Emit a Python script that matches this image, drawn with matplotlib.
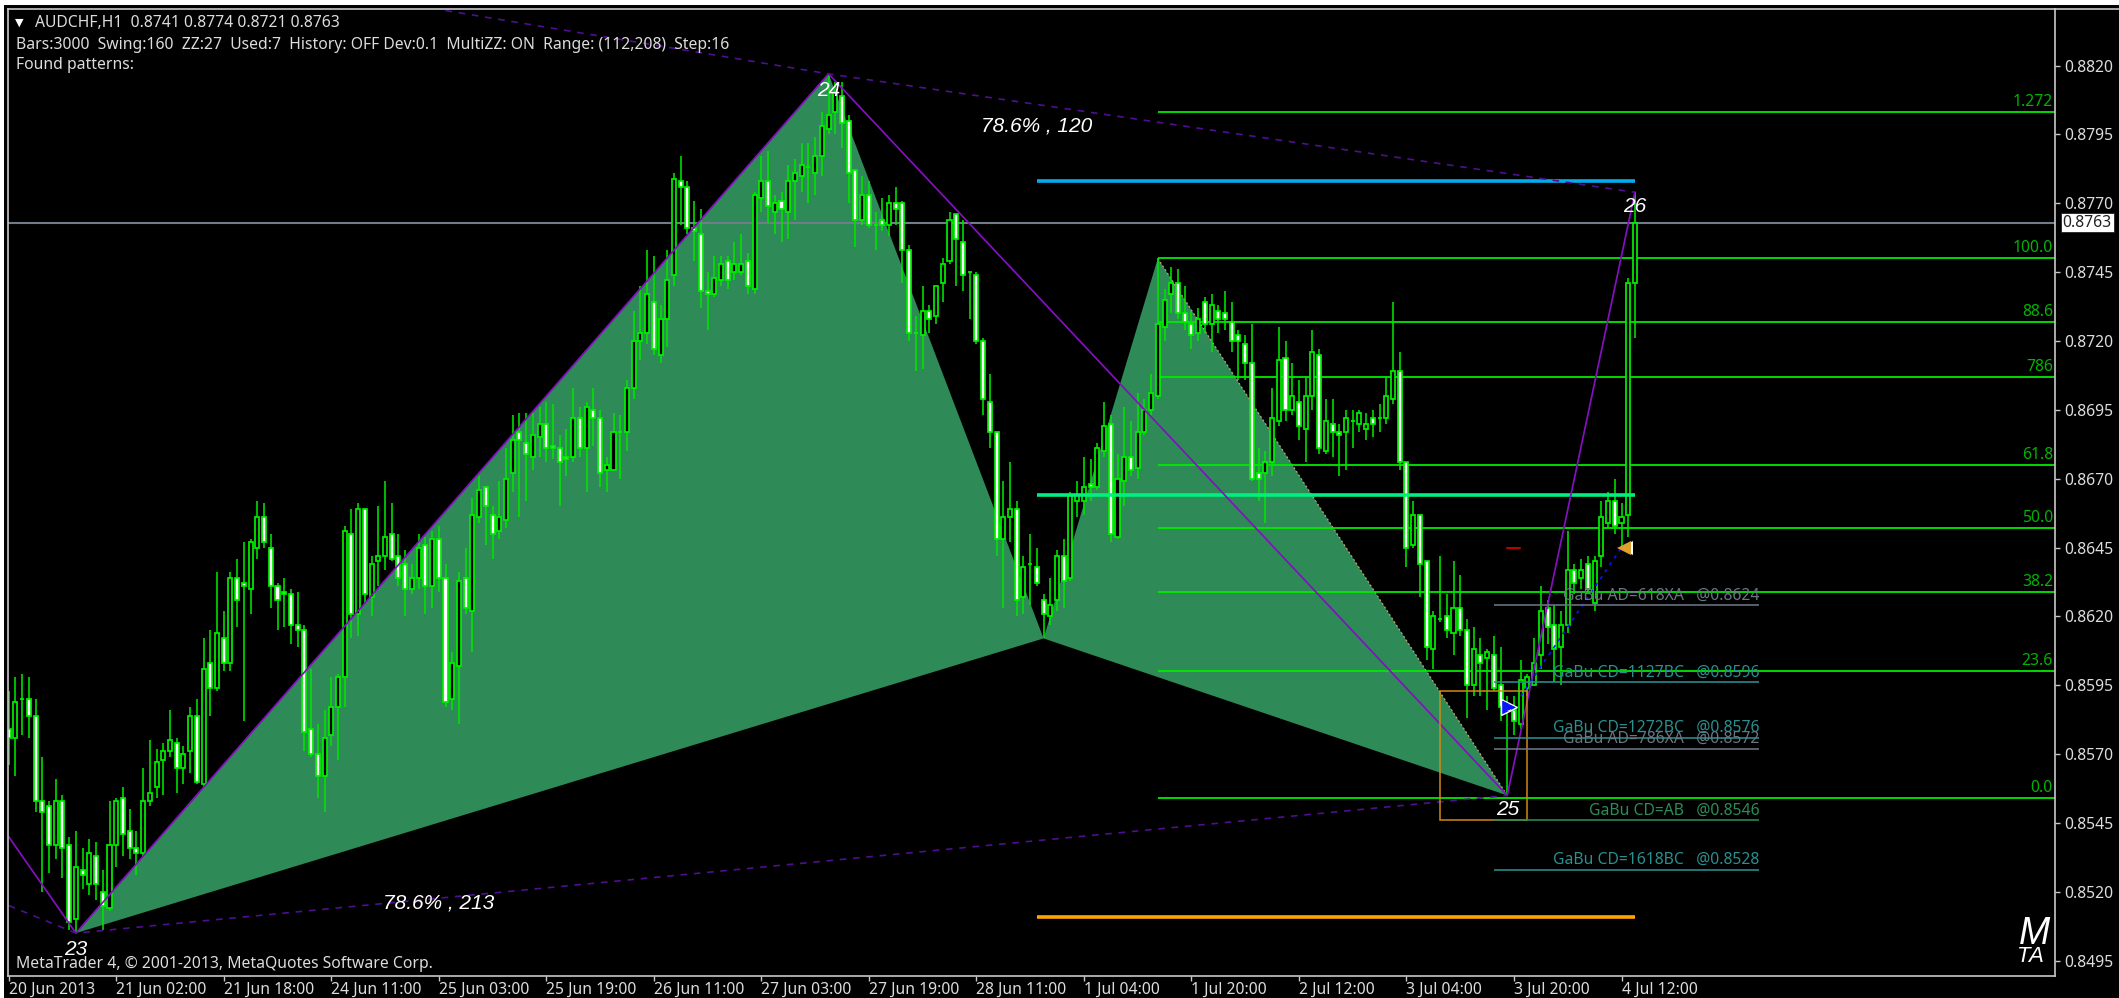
import numpy as np
import matplotlib
matplotlib.use("Agg")
import matplotlib.pyplot as plt
from matplotlib.patches import Rectangle
from matplotlib.lines import Line2D
from matplotlib.ticker import FixedLocator, FixedFormatter

# ---------- data: AUDCHF H1 prices in units of 0.0001 ----------
opens = [
8579,8576,8590,8590,8584,8553,8551,8537,8553,8537,
8510,8528,8523,8533,8520,8514,8537,8554,8542,8536,
8534,8553,8558,8568,8571,8574,8565,8571,8584,8559,
8603,8594,8612,8603,8634,8632,8630,8645,8656,8645,
8631,8629,8628,8617,8615,8579,8570,8562,8577,8587,
8598,8650,8621,8659,8627,8640,8642,8650,8642,8639,
8630,8634,8646,8631,8648,8634,8590,8602,8634,8622,
8656,8667,8657,8651,8655,8672,8687,8683,8678,8685,
8690,8682,8681,8678,8678,8692,8681,8695,8692,8673,
8673,8687,8687,8703,8720,8723,8734,8715,8728,8744,
8778,8776,8761,8759,8738,8737,8742,8749,8745,8745,
8749,8739,8772,8778,8767,8771,8767,8778,8780,8783,
8781,8787,8797,8803,8809,8800,8782,8764,8773,8762,
8764,8762,8770,8770,8753,8723,8722,8731,8729,8741,
8749,8766,8756,8745,8744,8720,8698,8687,8648,8656,
8659,8627,8639,8638,8626,8620,8626,8642,8634,8662,
8662,8668,8667,8680,8690,8649,8669,8678,8674,8687,
8695,8700,8725,8737,8741,8730,8726,8723,8734,8726,
8731,8730,8727,8722,8719,8712,8672,8672,8676,8691,
8714,8695,8698,8688,8700,8715,8680,8690,8687,8687,
8691,8690,8688,8692,8692,8692,8699,8709,8676,8646,
8657,8640,8608,8619,8620,8614,8623,8615,8595,8606,
8605,8606,8595,8588,8586,8581,8594,8595,8606,8623,
8617,8609,8617,8637,8634,8639,8625,8642,8654,8662,
8654,8657,8741]
closes = [
8576,8589,8590,8584,8553,8549,8537,8553,8536,8509,
8529,8526,8534,8523,8515,8537,8553,8541,8536,8534,
8553,8556,8567,8571,8575,8565,8570,8584,8560,8601,
8594,8614,8603,8634,8626,8631,8647,8656,8647,8631,
8626,8628,8617,8615,8578,8570,8562,8576,8587,8598,
8651,8621,8659,8628,8639,8642,8649,8641,8634,8630,
8634,8645,8631,8648,8634,8589,8603,8633,8623,8657,
8666,8660,8650,8656,8670,8684,8684,8679,8686,8690,
8681,8681,8676,8677,8692,8681,8696,8692,8672,8675,
8687,8687,8703,8720,8723,8737,8717,8728,8742,8779,
8776,8761,8760,8738,8737,8743,8748,8742,8748,8748,
8740,8773,8778,8769,8770,8768,8778,8781,8784,8783,
8787,8798,8802,8810,8799,8781,8764,8773,8762,8762,
8762,8770,8768,8753,8723,8723,8731,8728,8740,8748,
8764,8757,8744,8745,8720,8699,8687,8648,8656,8659,
8626,8638,8639,8632,8621,8624,8642,8633,8664,8664,
8667,8667,8681,8689,8650,8670,8678,8673,8687,8695,
8701,8726,8735,8741,8730,8727,8722,8728,8726,8733,
8728,8728,8720,8720,8712,8670,8670,8676,8692,8713,
8695,8700,8689,8700,8716,8681,8691,8687,8686,8692,
8691,8694,8690,8690,8692,8700,8709,8676,8645,8657,
8639,8609,8620,8619,8615,8623,8615,8595,8608,8603,
8607,8594,8587,8586,8582,8597,8598,8603,8622,8616,
8608,8617,8637,8632,8637,8630,8640,8656,8662,8653,
8656,8741,8763]
highs = [
8593,8598,8599,8598,8590,8569,8553,8561,8555,8540,
8542,8536,8539,8538,8528,8553,8554,8558,8550,8542,
8565,8575,8572,8574,8586,8576,8573,8587,8590,8612,
8615,8636,8622,8636,8641,8647,8648,8662,8661,8650,
8632,8634,8630,8629,8617,8601,8581,8586,8598,8599,
8653,8659,8661,8659,8642,8660,8669,8661,8650,8644,
8639,8650,8649,8651,8653,8639,8607,8636,8645,8663,
8671,8667,8660,8669,8681,8693,8694,8694,8694,8696,
8698,8697,8686,8688,8703,8696,8698,8703,8695,8678,
8694,8693,8706,8731,8740,8753,8751,8733,8753,8781,
8787,8778,8771,8768,8745,8751,8751,8751,8756,8759,
8752,8774,8787,8789,8773,8774,8784,8786,8792,8792,
8794,8803,8817,8814,8814,8802,8782,8780,8778,8767,
8772,8773,8776,8771,8755,8729,8740,8733,8740,8750,
8767,8766,8764,8745,8745,8721,8708,8687,8669,8676,
8662,8642,8650,8645,8628,8634,8644,8648,8665,8669,
8678,8677,8683,8698,8693,8679,8696,8691,8701,8699,
8708,8750,8739,8747,8746,8740,8731,8732,8736,8737,
8733,8738,8734,8724,8722,8726,8681,8680,8703,8725,
8720,8712,8706,8707,8724,8717,8699,8699,8690,8695,
8695,8695,8694,8695,8697,8707,8734,8716,8676,8662,
8657,8640,8622,8642,8628,8640,8635,8619,8616,8612,
8608,8613,8609,8591,8591,8604,8599,8612,8631,8626,
8624,8622,8651,8639,8641,8642,8642,8662,8665,8670,
8661,8743,8774]
lows = [
8566,8562,8577,8576,8549,8520,8527,8532,8525,8506,
8505,8521,8519,8517,8506,8513,8529,8533,8532,8526,
8533,8551,8554,8555,8569,8556,8559,8563,8559,8558,
8584,8593,8600,8600,8616,8582,8621,8641,8645,8623,
8615,8616,8610,8609,8571,8569,8554,8549,8573,8568,
8587,8612,8613,8625,8620,8631,8637,8640,8631,8620,
8628,8630,8621,8623,8629,8587,8586,8581,8621,8607,
8654,8646,8641,8648,8652,8665,8656,8662,8673,8678,
8676,8677,8660,8671,8676,8678,8665,8682,8667,8665,
8673,8670,8680,8699,8713,8719,8715,8712,8718,8740,
8762,8759,8749,8732,8724,8736,8740,8739,8742,8744,
8737,8737,8767,8763,8759,8756,8757,8764,8774,8770,
8773,8780,8795,8795,8790,8770,8754,8762,8761,8753,
8760,8758,8762,8741,8720,8709,8710,8723,8726,8734,
8748,8740,8738,8728,8719,8693,8681,8642,8623,8647,
8620,8621,8624,8631,8612,8617,8622,8623,8633,8656,
8657,8662,8666,8678,8647,8648,8660,8671,8670,8686,
8693,8699,8720,8730,8728,8724,8717,8720,8723,8716,
8723,8724,8716,8706,8706,8669,8662,8654,8671,8689,
8691,8693,8684,8676,8695,8679,8679,8678,8671,8673,
8681,8687,8684,8685,8687,8690,8697,8673,8638,8645,
8627,8604,8601,8618,8612,8606,8613,8583,8591,8591,
8586,8593,8582,8555,8577,8579,8591,8595,8601,8610,
8596,8595,8614,8628,8630,8629,8622,8638,8652,8650,
8645,8649,8721]

x_tick_labels = ["20 Jun 2013","21 Jun 02:00","21 Jun 18:00","24 Jun 11:00","25 Jun 03:00",
                 "25 Jun 19:00","26 Jun 11:00","27 Jun 03:00","27 Jun 19:00","28 Jun 11:00",
                 "1 Jul 04:00","1 Jul 20:00","2 Jul 12:00","3 Jul 04:00","3 Jul 20:00","4 Jul 12:00"]
y_tick_values = [8495,8520,8545,8570,8595,8620,8645,8670,8695,8720,8745,8770,8795,8820]

# zigzag / pattern pivots (bar index, price)
zig_bars = [0, 10, 122, 223, 242]
zig_prices = [8540, 8505, 8817, 8555, 8774]
low_trend_bars = [0, 10, 223]
low_trend_prices = [8515, 8505, 8555]
high_trend_bars = [65, 122, 242]
high_trend_prices = [8840, 8817, 8774]
xab_bars = [10, 122, 154]
xab_prices = [8505, 8817, 8612]
bcd_bars = [154, 171, 223]
bcd_prices = [8612, 8750, 8555]
blue_bars = [225, 240]
blue_prices = [8591, 8645]

fib_labels = ["1.272","100.0","88.6","786","61.8","50.0","38.2","23.6","0.0"]
fib_prices = [8803,8750,8727,8707,8675,8652,8629,8600,8554]

gabu_texts = ["GaBu AD=618XA   @0.8624","GaBu CD=1127BC   @0.8596","GaBu CD=1272BC   @0.8576",
              "GaBu AD=786XA   @0.8572","GaBu CD=AB   @0.8546","GaBu CD=1618BC   @0.8528"]
gabu_prices = [8624,8596,8576,8572,8546,8528]
gabu_colors = ["#6b7683","#2b8f8f","#2b8f8f","#6b7683","#2e8b57","#2b8f8f"]

prz_bars = [213, 226]
prz_prices = [8546, 8593]

thick_prices = [8778, 8664, 8511]
thick_colors = ["#00aeef", "#00f07f", "#ffa500"]

pivot_labels = ["23","24","25","26"]
pivot_label_bars = [10, 122, 223, 242]
pivot_label_prices = [8499, 8811, 8550, 8769]

ratio_labels = ["78.6% , 213", "78.6% , 120"]
ratio_bars = [64, 153]
ratio_prices = [8516, 8798]

# ---------- scaling helpers ----------
P = 1e-4
W, H = 2119, 998
L_PX, R_PX, T_PX, B_PX = 8, 2055, 9, 976
bar_px = 6.72
bar0_px = 8.7
px_per_price = 27540.0
price_at = lambda y: 0.8770 - (y - 203.3) / px_per_price

UI = "Noto Sans"
UI_SIZE = 11.3
FG = "#dcdcdc"

fig = plt.figure(figsize=(W/100, H/100), dpi=100, facecolor="black")
ax = fig.add_axes([L_PX/W, 1-B_PX/H, (R_PX-L_PX)/W, (B_PX-T_PX)/H], facecolor="black")
ax.set_xlim((L_PX-bar0_px)/bar_px, (R_PX-bar0_px)/bar_px)
ax.set_ylim(price_at(B_PX), price_at(T_PX))

o, h, l, c = [np.array(a, float)*P for a in (opens, highs, lows, closes)]
xs = np.arange(len(o))

# pattern fill (behind bars)
for bx, by in ((xab_bars, xab_prices), (bcd_bars, bcd_prices)):
    ax.fill(bx, np.array(by)*P, color="#2e8b57", lw=0, zorder=1)
ax.plot(bcd_bars[1:], np.array(bcd_prices[1:])*P, color="#c4a672", lw=0.9, ls=(0,(1.5,2)), zorder=1.5)

# fib levels
fib_start = 171
for lab, p in zip(fib_labels, fib_prices):
    ax.plot([fib_start, ax.get_xlim()[1]], [p*P, p*P], color="#00ea00", lw=1.3, zorder=2, solid_capstyle="butt")
    ax.annotate(lab, xy=(1, p*P), xycoords=("axes fraction", "data"), xytext=(-1.5, 7.2),
                textcoords="offset points", ha="right", va="center", color="#00b400",
                family=UI, fontsize=UI_SIZE, zorder=6)

# current price
ax.axhline(c[-1], color="#707c88", lw=1.5, zorder=2)

# candles
ax.vlines(xs, l, h, color="#00e600", lw=1.15, zorder=3)
ups = c >= o
ax.bar(xs, np.abs(c-o), bottom=np.minimum(o, c), width=0.6,
       color=["black" if u else "white" for u in ups], edgecolor="#00f000", linewidth=1.25, zorder=4)

# thick horizontal levels
for p, col in zip(thick_prices, thick_colors):
    ax.plot([153, 242], [p*P, p*P], color=col, lw=2.6, zorder=5, solid_capstyle="butt")

# zigzag & trend lines
ax.plot(zig_bars, np.array(zig_prices)*P, color="#8410c0", lw=1.25, zorder=5)
ax.plot(low_trend_bars, np.array(low_trend_prices)*P, color="#4f0f90", lw=1.2, ls=(0,(4,4)), zorder=5)
ax.plot(high_trend_bars, np.array(high_trend_prices)*P, color="#4f0f90", lw=1.2, ls=(0,(4,4)), zorder=5)
ax.plot(blue_bars, np.array(blue_prices)*P, color="#0a14ff", lw=1.2, ls=(0,(2,3)), zorder=5)

# potential reversal zone
ax.add_patch(Rectangle((prz_bars[0], prz_prices[0]*P), prz_bars[1]-prz_bars[0],
                       (prz_prices[1]-prz_prices[0])*P, fill=False, ec="#d28a14", lw=1.1, zorder=6))

# GaBu target lines and labels
for t, p, col in zip(gabu_texts, gabu_prices, gabu_colors):
    ax.plot([221, 260.5], [p*P, p*P], color=col, lw=1.15, zorder=6, solid_capstyle="butt")
    ax.annotate(t, xy=(260.5, p*P), xytext=(0, 7.0), textcoords="offset points", ha="right", va="center",
                color=col, family=UI, fontsize=UI_SIZE, zorder=7)

# markers
ax.plot([240.65], [8645*P], marker="<", ms=10, color="white", mew=0, zorder=8)
ax.plot([240.4], [8645*P], marker="<", ms=9.5, color="#e0a030", mew=0, zorder=8)
ax.plot([223.3], [8587*P], marker=">", ms=11, color="#0a14ff", mec="white", mew=1.0, zorder=8)
ax.plot([222.9], [8587*P], marker="s", ms=5, color="#0a14ff", mec="white", mew=0.6, zorder=8)
ax.plot([223.3], [8587*P], marker=">", ms=8, color="#0a14ff", mew=0, zorder=8)
ax.plot([223, 224.9], [8645*P, 8645*P], color="#e00000", lw=1.2, zorder=8)

# pivot numbers and ratio labels
for t, bx, p in zip(pivot_labels, pivot_label_bars, pivot_label_prices):
    ax.text(bx, p*P, t, color="white", style="italic", family="Liberation Sans", fontsize=15,
            ha="center", va="center", zorder=9)
for t, bx, p in zip(ratio_labels, ratio_bars, ratio_prices):
    ax.text(bx, p*P, t, color="white", style="italic", family="Liberation Sans", fontsize=15,
            ha="center", va="center", zorder=9)

# axes, ticks
for s in ax.spines.values():
    s.set_color("#c8c8c8"); s.set_linewidth(1.2); s.set_zorder(10)
ax.xaxis.set_major_locator(FixedLocator(np.arange(len(x_tick_labels))*16))
ax.xaxis.set_major_formatter(FixedFormatter(x_tick_labels))
ax.yaxis.tick_right()
ax.yaxis.set_major_locator(FixedLocator(np.array(y_tick_values)*P))
ax.yaxis.set_major_formatter(FixedFormatter([f"{v*P:.4f}" for v in y_tick_values]))
ax.tick_params(axis="both", color="#c8c8c8", length=3.5, width=1.0, labelcolor=FG, labelsize=UI_SIZE)
ax.tick_params(axis="x", pad=1)
ax.tick_params(axis="y", pad=3)
for t in ax.get_xticklabels():
    t.set_family(UI); t.set_ha("left")
for t in ax.get_yticklabels():
    t.set_family(UI)

# current price box
ax.annotate(f"{c[-1]:.4f}", xy=(1, c[-1]), xycoords=("axes fraction", "data"), xytext=(5.5, 0),
            textcoords="offset points", ha="left", va="center", color="#222222", family=UI,
            fontsize=UI_SIZE, annotation_clip=False, zorder=12,
            bbox=dict(boxstyle="square,pad=0.12", fc="white", ec="#222222", lw=0.6))

# header and footer text
def ftext(x, y, s, **kw):
    fig.text(x/W, 1-y/H, s, va="center", **kw)

ftext(35, 23, "AUDCHF,H1  0.8741 0.8774 0.8721 0.8763", color=FG, family=UI, fontsize=UI_SIZE)
ftext(16, 45, "Bars:3000  Swing:160  ZZ:27  Used:7  History: OFF Dev:0.1  MultiZZ: ON  Range: (112,208)  Step:16",
      color=FG, family=UI, fontsize=UI_SIZE)
ftext(16, 65, "Found patterns:", color=FG, family=UI, fontsize=UI_SIZE)
ftext(16, 964, "MetaTrader 4, \u00a9 2001-2013, MetaQuotes Software Corp.", color=FG, family=UI, fontsize=UI_SIZE)
fig.text(19/W, 1-23/H, "\u25bc", color="white", fontsize=8, family="DejaVu Sans", ha="center", va="center")
ftext(2019, 934, "M", color="white", style="italic", family="Liberation Sans", fontsize=27)
ftext(2017, 957, "TA", color="white", style="italic", family="Liberation Sans", fontsize=16)

# window chrome
fig.add_artist(Rectangle((0, 1-5/H), 1, 5/H, transform=fig.transFigure, fc="white", ec="none"))
fig.add_artist(Rectangle((0, 0), 4/W, 1, transform=fig.transFigure, fc="white", ec="none"))
fig.add_artist(Line2D([R_PX/W, 1], [1-T_PX/H, 1-T_PX/H], transform=fig.transFigure, color="#c8c8c8", lw=1.2))

fig.savefig("out.png", dpi=100, facecolor="black")
